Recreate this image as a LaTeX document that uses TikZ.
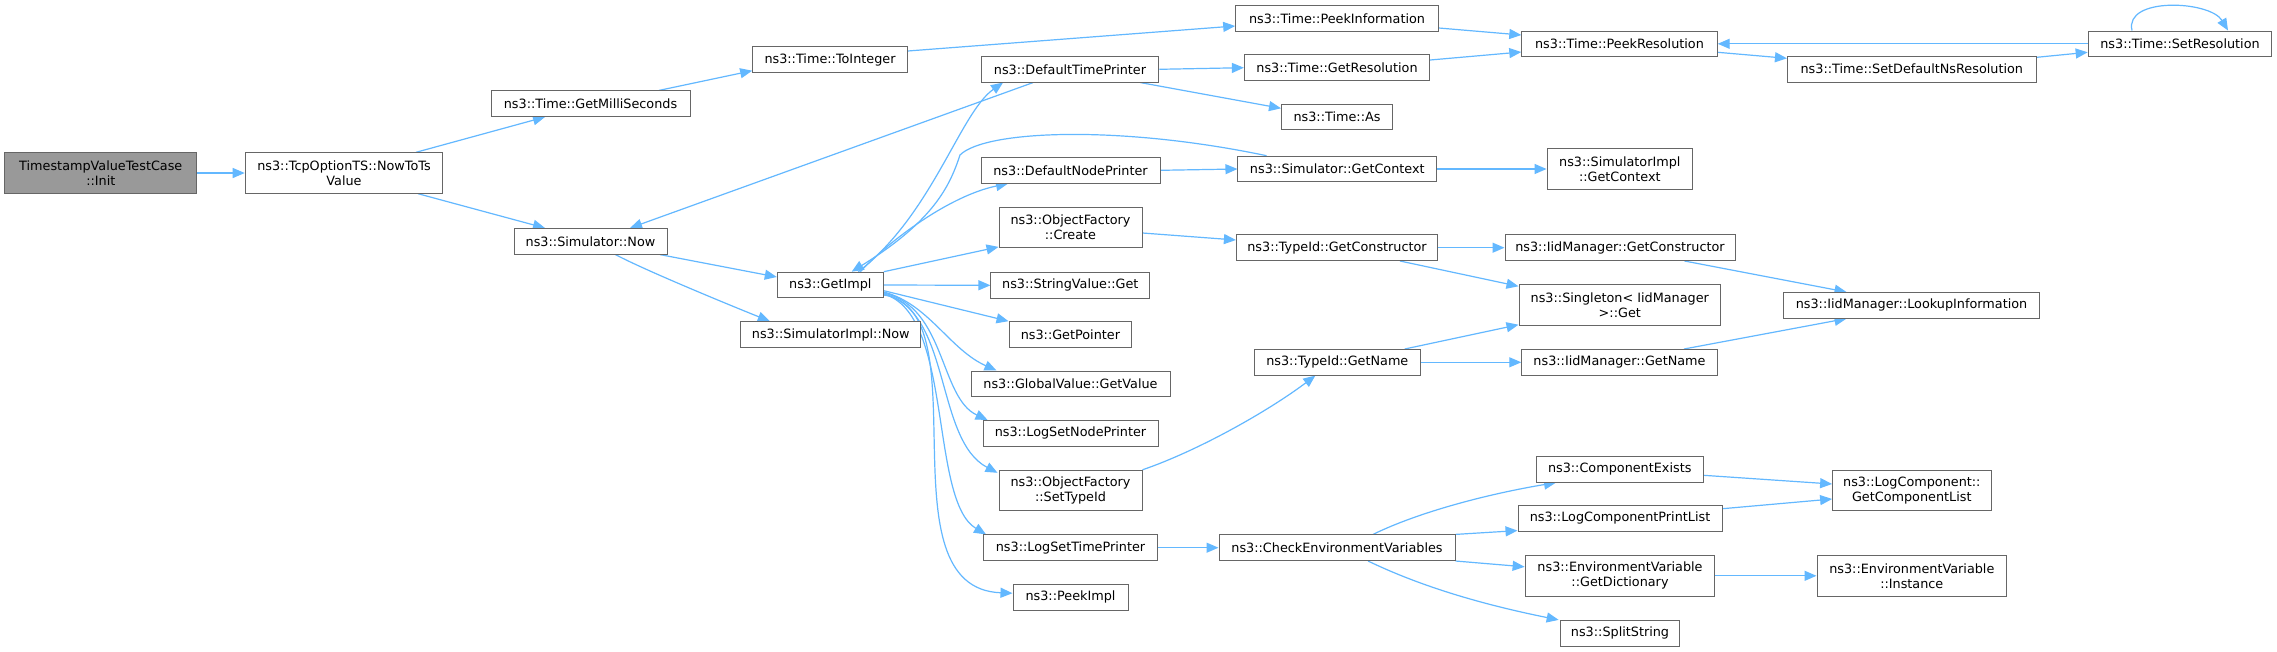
\documentclass[tikz,border=0pt]{standalone}
\usepackage{fontspec}
\setmainfont{DejaVu Sans}
\usetikzlibrary{arrows.meta}
\definecolor{edgeblue}{HTML}{63B8FF}
\definecolor{boxgray}{HTML}{666666}
\definecolor{rootfill}{HTML}{999999}
\pgfdeclarelayer{edgelayer}
\pgfsetlayers{edgelayer,main}
\begin{document}
\begin{tikzpicture}[x=1pt,y=-1pt,
  box/.style={draw=boxgray,line width=1pt,fill=white,inner xsep=2pt,inner ysep=1pt,
    align=center,font=\fontsize{12.8}{15}\selectfont,minimum height=25.6pt},
  two/.style={minimum height=40.4pt},
  root/.style={fill=rootfill},
  edge/.style={draw=edgeblue,line width=1.2pt,-{Triangle[length=12pt,width=10pt]}}]
\useasboundingbox (0,0) rectangle (2277,651);
% nodes
\node[box,two,root,minimum width=192pt] (init) at (100.8,173) {TimestampValueTestCase\\::Init};
\node[box,two,minimum width=197.6pt] (nowts) at (344,173) {ns3::TcpOptionTS::NowToTs\\Value};
\node[box,minimum width=199pt] (gms) at (590.5,103.7) {ns3::Time::GetMilliSeconds};
\node[box,minimum width=153pt] (simnow) at (590.5,241.3) {ns3::Simulator::Now};
\node[box,minimum width=154.6pt] (toint) at (830,59.7) {ns3::Time::ToInteger};
\node[box,minimum width=106pt] (getimpl) at (830.3,285) {ns3::GetImpl};
\node[box,minimum width=180pt] (simimplnow) at (830.8,334.5) {ns3::SimulatorImpl::Now};
\node[box,minimum width=202.6pt] (peekinfo) at (1337,18.5) {ns3::Time::PeekInformation};
\node[box,minimum width=177.5pt] (dtp) at (1070,69.3) {ns3::DefaultTimePrinter};
\node[box,minimum width=185.3pt] (getres) at (1337,67.7) {ns3::Time::GetResolution};
\node[box,minimum width=111pt] (as) at (1337,117) {ns3::Time::As};
\node[box,minimum width=179pt] (dnp) at (1070.5,170.3) {ns3::DefaultNodePrinter};
\node[box,minimum width=198.7pt] (getctx) at (1337.3,169) {ns3::Simulator::GetContext};
\node[box,two,minimum width=143pt] (create) at (1070.5,227.7) {ns3::ObjectFactory\\::Create};
\node[box,minimum width=201.2pt] (tgc) at (1337,247.7) {ns3::TypeId::GetConstructor};
\node[box,minimum width=158.7pt] (strget) at (1070.3,285.3) {ns3::StringValue::Get};
\node[box,minimum width=122.8pt] (getptr) at (1070.4,334.5) {ns3::GetPointer};
\node[box,minimum width=199pt] (globval) at (1070.5,383.8) {ns3::GlobalValue::GetValue};
\node[box,minimum width=175pt] (lsnp) at (1070.5,433.2) {ns3::LogSetNodePrinter};
\node[box,two,minimum width=143pt] (settid) at (1070.5,490.5) {ns3::ObjectFactory\\::SetTypeId};
\node[box,minimum width=174pt] (lstp) at (1070.5,547.7) {ns3::LogSetTimePrinter};
\node[box,minimum width=115pt] (peekimpl) at (1070.5,597.2) {ns3::PeekImpl};
\node[box,minimum width=165.8pt] (tgn) at (1337.3,362.3) {ns3::TypeId::GetName};
\node[box,minimum width=236pt] (cev) at (1337,547.7) {ns3::CheckEnvironmentVariables};
\node[box,minimum width=195.4pt] (peekres) at (1619.5,43.8) {ns3::Time::PeekResolution};
\node[box,minimum width=248.7pt] (sdnr) at (1911.8,69.2) {ns3::Time::SetDefaultNsResolution};
\node[box,minimum width=183.7pt] (setres) at (2180,43.8) {ns3::Time::SetResolution};
\node[box,two,minimum width=145.5pt] (sigctx) at (1619.8,169) {ns3::SimulatorImpl\\::GetContext};
\node[box,minimum width=230pt] (igc) at (1620,247.7) {ns3::IidManager::GetConstructor};
\node[box,two,minimum width=201.6pt] (singleton) at (1619.8,305) {ns3::Singleton< IidManager\\>::Get};
\node[box,minimum width=256pt] (lookup) at (1911.5,305.3) {ns3::IidManager::LookupInformation};
\node[box,minimum width=195.4pt] (ign) at (1619.5,362.3) {ns3::IidManager::GetName};
\node[box,minimum width=166.7pt] (compex) at (1619.7,469.3) {ns3::ComponentExists};
\node[box,two,minimum width=158.4pt] (gcl) at (1911.8,490.5) {ns3::LogComponent::\\GetComponentList};
\node[box,minimum width=204pt] (lcpl) at (1620,518.3) {ns3::LogComponentPrintList};
\node[box,two,minimum width=189.8pt] (getdict) at (1620,575.8) {ns3::EnvironmentVariable\\::GetDictionary};
\node[box,two,minimum width=189.6pt] (instance) at (1911.8,575.8) {ns3::EnvironmentVariable\\::Instance};
\node[box,minimum width=119.7pt] (split) at (1620,633.2) {ns3::SplitString};
% edges
\begin{pgfonlayer}{edgelayer}
\fill[white] (0,0) rectangle (2277,651);
\draw[edge] (init.east) -- (nowts.west);
\draw[edge] ([xshift=72pt]nowts.north) -- ([xshift=-45.5pt]gms.south);
\draw[edge] ([xshift=74pt]nowts.south) -- ([xshift=-45.5pt]simnow.north);
\draw[edge] ([xshift=68.5pt]gms.north) -- ([yshift=-11pt]toint.west);
\draw[edge] ([yshift=8.7pt]toint.east) -- ([yshift=-7.5pt]peekinfo.west);
\draw[edge] ([yshift=-9.5pt]peekinfo.east) -- ([yshift=8.8pt]peekres.west);
\draw[edge] ([yshift=7.7pt]getres.east) -- ([yshift=-8.2pt]peekres.west);
\draw[edge] ([yshift=-8.5pt]peekres.east) -- ([yshift=10.9pt]sdnr.west);
\draw[edge] ([yshift=11.9pt]sdnr.east) -- ([yshift=-8.5pt]setres.west);
\draw[edge] (setres.west) -- (peekres.east);
\draw[edge] ([xshift=-48pt]setres.north) .. controls +(-8,-34) and +(-18,-30) .. ([xshift=48pt]setres.north);
\draw[edge] ([xshift=69.5pt]simnow.south) -- ([yshift=8pt]getimpl.west);
\draw[edge] ([xshift=25pt]simnow.south) .. controls +(30,16) and +(-35,-14) .. ([xshift=-61pt]simimplnow.north);
\draw[edge] ([xshift=-37pt]dtp.south) -- ([xshift=39.5pt]simnow.north);
\draw[edge] ([xshift=28pt]getimpl.north) .. controls +(74,-57) and +(-43,30) .. ([xshift=-67pt]dtp.south);
\draw[edge] ([xshift=-70.8pt]getctx.north) .. controls (1120,125) and (985,130) .. (960,155) .. controls (950,185) and (935,220) .. ([xshift=21.4pt]getimpl.north);
\draw[edge] ([xshift=30pt]getimpl.north) .. controls +(30,-32) and +(-58,12) .. ([xshift=-62.5pt]dnp.south);
\draw[edge] (dtp.east) -- (getres.west);
\draw[edge] ([xshift=70.5pt]dtp.south) -- ([yshift=8.7pt]as.west);
\draw[edge] (dnp.east) -- (getctx.west);
\draw[edge] (getctx.east) -- (sigctx.west);
\draw[edge] (getimpl.north east) -- ([yshift=1.5pt]create.south west);
\draw[edge] (getimpl.east) -- (strget.west);
\draw[edge] ([yshift=-5.7pt]getimpl.east) -- (getptr.north west);
\draw[edge] ([yshift=-7pt]getimpl.east) .. controls +(45,12) and +(-47,-21) .. ([xshift=-74pt]globval.north);
\draw[edge] ([yshift=-8pt]getimpl.east) .. controls +(62,14) and +(-48,-22) .. ([xshift=5pt]lsnp.north west);
\draw[edge] ([yshift=-9pt]getimpl.east) .. controls +(68,17) and +(-63,-33) .. ([xshift=-1pt,yshift=-3pt]settid.north west);
\draw[edge] ([yshift=-9pt]getimpl.east) .. controls +(70,20) and +(-57,-34) .. ([xshift=3pt]lstp.north west);
\draw[edge] ([yshift=-10pt]getimpl.east) .. controls +(100,15) and +(-133,-5) .. ([yshift=4pt]peekimpl.west);
\draw[edge] ([yshift=-5.3pt]create.east) -- ([yshift=7.7pt]tgc.west);
\draw[edge] (tgc.east) -- (igc.west);
\draw[edge] ([xshift=63pt]tgc.south) -- ([yshift=-2pt]singleton.north west);
\draw[edge] ([xshift=64.5pt]igc.south) -- ([xshift=-65pt]lookup.north);
\draw[edge] (settid.north east) .. controls +(58,-20) and +(-45,34) .. ([xshift=-22pt]tgn.south);
\draw[edge] ([xshift=67.4pt]tgn.north) -- ([yshift=1pt]singleton.south west);
\draw[edge] (tgn.east) -- (ign.west);
\draw[edge] ([xshift=64.5pt]ign.north) -- ([xshift=-65pt]lookup.south);
\draw[edge] (lstp.east) -- (cev.west);
\draw[edge] ([xshift=36pt]cev.north) .. controls +(47,-23) and +(-66,11) .. ([xshift=-63.7pt]compex.south);
\draw[edge] (cev.north east) -- ([yshift=1pt]lcpl.south west);
\draw[edge] (cev.south east) -- ([yshift=9pt]getdict.west);
\draw[edge] ([xshift=31pt]cev.south) .. controls +(52,25) and +(-79,-16) .. ([xshift=-1pt]split.north west);
\draw[edge] ([yshift=-6pt]compex.east) -- ([yshift=6.5pt]gcl.west);
\draw[edge] ([yshift=9.6pt]lcpl.east) -- ([yshift=-8.5pt]gcl.west);
\draw[edge] (getdict.east) -- (instance.west);
\end{pgfonlayer}
\end{tikzpicture}
\end{document}
